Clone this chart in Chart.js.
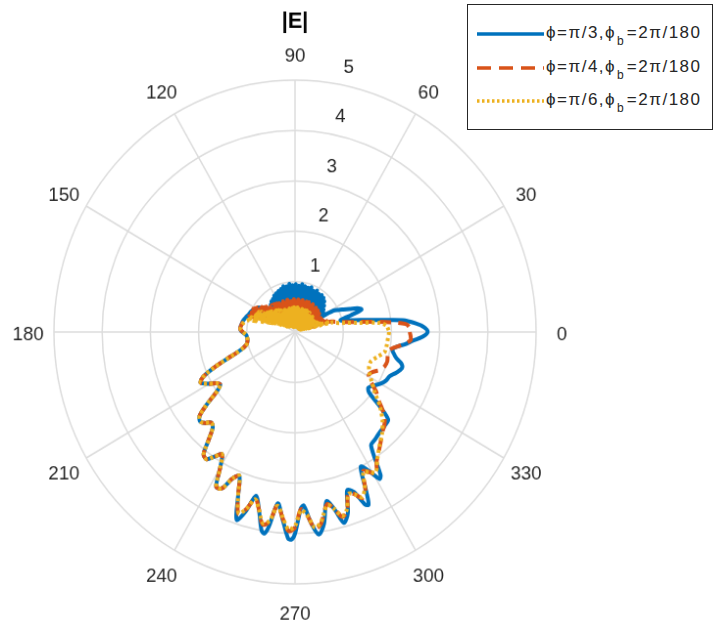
<!DOCTYPE html>
<html>
<head>
<meta charset="utf-8">
<script src="https://cdn.jsdelivr.net/npm/chart.js@4.4.1/dist/chart.umd.min.js"></script>
<style>
html,body{margin:0;padding:0;background:#fff;overflow:hidden;}
#wrap{position:relative;width:715px;height:630px;}
#chartBox{position:absolute;left:0;top:0;width:715px;height:630px;transform-origin:295px 332px;transform:scale(0.98,1.024);}
#legend{position:absolute;left:467px;top:4px;width:244px;height:124px;border:1px solid #262626;background:#fff;
  font-family:"Liberation Sans",Arial,sans-serif;font-size:17px;color:#262626;}
.row{position:absolute;left:0;height:20px;width:100%;}
.row svg{position:absolute;left:9px;top:4px;}
.row span{position:absolute;left:78px;top:-1px;line-height:20px;white-space:nowrap;letter-spacing:1.5px;}
.row sub{font-size:12px;vertical-align:-7px;line-height:0;letter-spacing:3px;margin-left:1px;}
</style>
</head>
<body>
<div id="wrap">
  <div id="chartBox"><canvas id="c"></canvas></div>
  <div id="legend"></div>
</div>
<script>
// ---------- data ----------
const titleText = '|E|';
const phiValues = ['π/3', 'π/4', 'π/6'];
const phiB = '2π/180';
const seriesColors = ['#0072BD', '#D95319', '#EDB120'];
const angleTickLabels = [0, 30, 60, 90, 120, 150, 180, 210, 240, 270, 300, 330];
const radialTickLabels = [1, 2, 3, 4, 5];
const rMax = 5;

// lower lobe part common to all three curves (deg, |E|)
const sharedAngles = [183,186,190,194,197,199,201,203,205,207,208,210,212,214,216,218,220,222,224,226,228,230,232,234,236,238,240,242,244,246,248,250];
const sharedR      = [1.02,1.0,1.0,1.04,1.15,1.3,1.55,1.85,2.1,2.2,2.17,2.05,1.92,1.87,2.0,2.3,2.58,2.65,2.6,2.5,2.55,2.78,3.08,3.12,2.98,2.86,3.1,3.48,3.45,3.18,3.08,3.45];

// phi = pi/3 (blue)
const blueAngles = [0,2,4,6,8,10,12,14,16,18,20,22,24,26,28,
  152,156,160,164,168,172,176,179,
  252,254,256,258,260,261,262,264,266,268,269,270,272,273,275,277,279,281,283,285,287,289,291,293,294,295,297,299,301,302,305,308,311,315,318,320,322,324,327,330,333,336,339,342,344,346,348,350,352,354,356,358];
const blueR = [2.75,2.68,2.5,2.25,1.7,1.38,1.12,0.97,1.2,1.45,1.38,1.22,1.1,1.0,0.9,
  0.95,1.0,1.02,1.06,1.1,1.12,1.14,1.12,
  3.92,3.7,3.35,3.6,4.0,4.05,3.9,3.42,3.72,4.1,4.12,4.0,3.5,3.45,3.8,4.05,3.85,3.42,3.6,3.92,3.75,3.32,3.4,3.72,3.75,3.5,3.0,3.15,3.4,3.35,2.75,2.7,2.66,2.63,2.6,2.3,1.95,1.88,1.95,2.05,2.12,2.15,2.25,2.33,2.3,2.17,2.1,2.05,2.12,2.3,2.45,2.65];
const blueSpikesFrom = 29;
const blueSpikes = [
  0.55,0.3,0.62,0.28,0.7,0.35,0.66,0.3,0.74,0.38,0.7,0.34,
  0.8,0.4,0.72,0.45,0.86,0.42,0.76,0.5,0.9,0.45,0.8,0.5,
  0.92,0.48,0.8,0.55,0.9,0.5,0.82,0.52,0.94,0.55,0.8,0.5,
  0.9,0.56,0.82,0.5,0.95,0.55,0.84,0.52,0.92,0.58,0.8,0.5,
  0.93,0.55,0.84,0.52,0.96,0.56,0.82,0.5,0.92,0.55,0.85,0.53,
  0.95,0.56,0.83,0.5,0.93,0.55,0.86,0.52,0.96,0.56,0.82,0.5,
  0.92,0.54,0.84,0.5,0.94,0.55,0.82,0.5,0.9,0.52,0.8,0.48,
  0.88,0.5,0.78,0.46,0.86,0.5,0.76,0.45,0.84,0.48,0.74,0.42,
  0.8,0.45,0.72,0.4,0.78,0.42,0.7,0.38,0.74,0.4,0.66,0.35,
  0.7,0.38,0.66,0.35,0.75,0.4,0.8,0.45,0.85,0.5,0.9,0.55,
  0.92,0.8];

// phi = pi/4 (orange)
const orangeAngles = [0,2,4,6,8,10,12,14,
  162,166,170,174,177,180,
  252,254,256,258,260,262,264,266,268,270,272,274,276,278,281,283,285,287,289,291,293,295,297,299,301,303,306,309,312,315,318,320,322,325,328,331,334,337,340,343,346,349,351,353,356,358];
const orangeR = [2.38,2.38,2.3,1.9,1.45,1.15,0.96,0.85,
  1.0,1.06,1.1,1.13,1.14,1.08,
  3.8,3.65,3.4,3.6,3.88,3.8,3.45,3.7,3.95,3.88,3.52,3.65,3.92,3.85,3.48,3.6,3.8,3.7,3.38,3.45,3.58,3.45,3.1,3.18,3.28,3.1,2.95,2.82,2.7,2.62,2.5,2.35,2.2,2.05,1.85,1.75,1.8,1.92,1.98,2.0,1.98,1.98,2.05,2.2,2.4,2.4];
const orangeSpikesFrom = 16;
const orangeSpikes = [
  0.75,0.3,0.7,0.25,0.65,0.3,0.62,0.22,0.6,0.28,0.58,0.2,
  0.6,0.25,0.55,0.2,0.6,0.28,0.56,0.22,0.62,0.3,0.58,0.24,
  0.6,0.28,0.64,0.3,0.6,0.25,0.62,0.32,0.65,0.28,0.6,0.3,
  0.64,0.26,0.6,0.3,0.66,0.28,0.62,0.32,0.65,0.27,0.6,0.3,
  0.66,0.3,0.62,0.26,0.65,0.32,0.6,0.28,0.66,0.3,0.62,0.27,
  0.65,0.3,0.6,0.28,0.66,0.32,0.62,0.26,0.65,0.3,0.61,0.28,
  0.66,0.3,0.62,0.27,0.65,0.32,0.6,0.28,0.66,0.3,0.62,0.26,
  0.65,0.3,0.62,0.28,0.66,0.32,0.6,0.27,0.64,0.3,0.62,0.28,
  0.66,0.3,0.62,0.26,0.65,0.32,0.63,0.28,0.66,0.3,0.64,0.27,
  0.68,0.32,0.66,0.3,0.7,0.34,0.68,0.3,0.72,0.35,0.7,0.32,
  0.75,0.36,0.72,0.34,0.78,0.38,0.8,0.4,0.85,0.42,0.88,0.45,
  0.92,0.5,0.95,0.55,0.98,0.6,0.96,0.62,0.98,0.7,0.97,0.8];

// phi = pi/6 (yellow)
const yellowAngles = [0,2,4,6,8,10,12,
  170,174,177,180,
  252,254,256,258,260,262,264,266,268,270,272,274,276,278,281,283,285,287,289,291,293,295,297,299,301,304,308,312,316,320,324,328,332,336,340,344,348,352,356];
const yellowR = [1.95,1.93,1.9,1.75,1.3,1.04,0.87,
  1.08,1.12,1.13,1.08,
  3.78,3.65,3.42,3.6,3.85,3.78,3.47,3.68,3.92,3.85,3.54,3.65,3.9,3.82,3.5,3.6,3.78,3.68,3.4,3.45,3.56,3.42,3.12,3.18,3.25,3.05,2.85,2.7,2.52,2.3,2.05,1.88,1.75,1.68,1.68,1.78,1.9,1.92,1.93];
const yellowSpikesFrom = 14;
const yellowSpikes = [
  0.8,0.25,0.7,0.2,0.6,0.15,0.55,0.18,0.5,0.12,0.48,0.15,
  0.46,0.12,0.45,0.15,0.44,0.1,0.46,0.14,0.45,0.12,0.47,0.15,
  0.45,0.1,0.47,0.14,0.46,0.12,0.48,0.15,0.46,0.1,0.48,0.13,
  0.47,0.12,0.49,0.15,0.46,0.1,0.48,0.14,0.47,0.12,0.49,0.15,
  0.46,0.11,0.48,0.14,0.47,0.12,0.49,0.15,0.46,0.1,0.48,0.14,
  0.47,0.12,0.49,0.15,0.46,0.11,0.48,0.14,0.47,0.12,0.49,0.15,
  0.46,0.1,0.48,0.14,0.47,0.12,0.49,0.15,0.46,0.11,0.48,0.14,
  0.47,0.12,0.49,0.15,0.46,0.1,0.48,0.14,0.47,0.12,0.49,0.15,
  0.46,0.11,0.48,0.14,0.47,0.12,0.49,0.15,0.47,0.1,0.5,0.14,
  0.5,0.12,0.52,0.15,0.52,0.12,0.55,0.16,0.55,0.14,0.58,0.16,
  0.58,0.15,0.6,0.18,0.62,0.16,0.64,0.2,0.66,0.18,0.7,0.22,
  0.72,0.2,0.76,0.25,0.8,0.28,0.85,0.3,0.88,0.35,0.9,0.4,
  0.92,0.45,0.94,0.55,0.95,0.65,0.96,0.8,0.98];

// ---------- build the radar (polar) table: 1 degree per category ----------
// category i sits at theta = (360 - i) % 360, so with startAngle 90 the angle grows counter-clockwise from 3 o'clock
const categories = Array.from({length: 360}, (_, i) => (360 - i) % 360);
function buildSeries(angles, radii, spikesFrom, spikes) {
  const m = new Map();
  sharedAngles.forEach((a, k) => m.set(a, sharedR[k]));
  angles.forEach((a, k) => m.set(a, radii[k]));
  spikes.forEach((v, k) => m.set(spikesFrom + k, v));
  return categories.map(t => m.has(t) ? m.get(t) : null);
}
const seriesData = [
  buildSeries(blueAngles, blueR, blueSpikesFrom, blueSpikes),
  buildSeries(orangeAngles, orangeR, orangeSpikesFrom, orangeSpikes),
  buildSeries(yellowAngles, yellowR, yellowSpikesFrom, yellowSpikes)
];
const dashes = [[], [12, 7], [3, 3]];
const labelText = phiValues.map(p => 'ϕ=' + p + ',ϕb=' + phiB);

const FONT = '"Liberation Sans", Arial, Helvetica, sans-serif';
const indexOfAngle = t => (360 - t) % 360;

const polarText = {
  id: 'polarText',
  afterDraw(chart) {
    const s = chart.scales.r;
    const ctx = chart.ctx;
    ctx.save();
    ctx.fillStyle = '#262626';
    ctx.font = '19px ' + FONT;
    ctx.textAlign = 'center';
    ctx.textBaseline = 'middle';
    angleTickLabels.forEach(t => {
      const p = s.getPointPositionForValue(indexOfAngle(t), rMax * 1.107);
      ctx.fillText(String(t), p.x, p.y + 3);
    });
    radialTickLabels.forEach(v => {
      const p = s.getPointPositionForValue(indexOfAngle(80), v);
      ctx.fillText(String(v), p.x + 12, p.y - 16);
    });
    ctx.restore();
  }
};

new Chart(document.getElementById('c'), {
  type: 'radar',
  data: {
    labels: categories,
    datasets: seriesData.map((d, k) => ({
      label: labelText[k],
      data: d,
      borderColor: seriesColors[k],
      backgroundColor: seriesColors[k],
      borderWidth: 4,
      borderDash: dashes[k],
      pointRadius: 0,
      pointHoverRadius: 0,
      fill: false,
      spanGaps: true,
      tension: 0.3,
      order: 3 - k
    }))
  },
  options: {
    responsive: true,
    maintainAspectRatio: false,
    animation: false,
    events: [],
    layout: {padding: {left: 48, right: 173, top: 0, bottom: 51}},
    plugins: {
      legend: {display: false},
      tooltip: {enabled: false},
      title: {display: true, text: titleText, color: '#000',
        font: {size: 22, weight: 'bold', family: FONT, lineHeight: 1.2},
        padding: {top: 16, bottom: 43}}
    },
    scales: {
      r: {
        min: 0, max: rMax, startAngle: 90,
        ticks: {display: false, stepSize: 1},
        pointLabels: {display: false},
        grid: {circular: true, color: '#dcdcdc', lineWidth: 1.5},
        angleLines: {display: true, color: '#dcdcdc',
          lineWidth: ctx => (categories[ctx.index] % 30 === 0 ? 1.5 : 0)}
      }
    }
  },
  plugins: [polarText]
});

// ---------- legend (HTML, with subscript) ----------
const legend = document.getElementById('legend');
const rowTops = [19, 53, 86];
phiValues.forEach((p, k) => {
  const row = document.createElement('div');
  row.className = 'row';
  row.style.top = rowTops[k] + 'px';
  const dash = k === 1 ? 'stroke-dasharray="14 8"' : (k === 2 ? 'stroke-dasharray="2.5 2.5"' : '');
  row.innerHTML = '<svg width="68" height="12"><line x1="0" y1="6" x2="67" y2="6" stroke="' + seriesColors[k] +
    '" stroke-width="3.5" ' + dash + '/></svg><span>ϕ=' + p + ',ϕ<sub>b</sub>=' + phiB + '</span>';
  legend.appendChild(row);
});
</script>
</body>
</html>
